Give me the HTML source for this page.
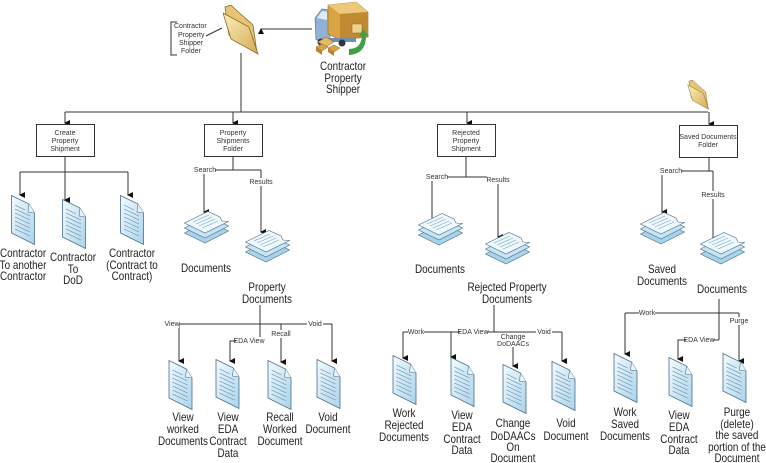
<!DOCTYPE html>
<html><head><meta charset="utf-8"><style>
html,body{margin:0;padding:0;background:#fff}
svg{display:block}
text{font-family:"Liberation Sans",Arial,sans-serif;fill:#222}
.t{font-size:11.5px;text-anchor:middle;transform-box:fill-box;transform-origin:center;transform:scaleX(.86)}
.s{font-size:7px;text-anchor:middle;fill:#333}
.lb{font-size:7px;fill:#333}
.ln{stroke:#333;stroke-width:1;fill:none}
</style></head><body>
<svg width="766" height="463" viewBox="0 0 766 463" xmlns="http://www.w3.org/2000/svg">
<defs>
<marker id="a" markerWidth="6" markerHeight="6" refX="3" refY="5" orient="auto-start-reverse" markerUnits="userSpaceOnUse"><path d="M0,0 L6,0 L3,6z" fill="#111"/></marker>
<linearGradient id="pg" x1="0" y1="0" x2="1" y2="1"><stop offset="0" stop-color="#f4fbff"/><stop offset="1" stop-color="#a9d3ea"/></linearGradient>
<linearGradient id="fg" x1="0" y1="0" x2="1" y2="1"><stop offset="0" stop-color="#fbf0b8"/><stop offset="1" stop-color="#d4aa55"/></linearGradient>
<symbol id="doc" viewBox="0 0 24 50">
<path d="M0.5,0.5 L18,9 L23.5,18 L23.5,49.5 L0.5,38z" fill="url(#pg)" stroke="#4a6f88" stroke-width="0.8"/>
<path d="M18,9 L17,17 L23.5,18" fill="#e7f4fb" stroke="#4a6f88" stroke-width="0.6"/>
<g stroke="#7aa1bb" stroke-width="0.7"><line x1="4" y1="10" x2="14" y2="15"/><line x1="4" y1="14" x2="19" y2="21"/><line x1="4" y1="18" x2="19" y2="25"/><line x1="4" y1="22" x2="19" y2="29"/><line x1="4" y1="26" x2="19" y2="33"/><line x1="4" y1="30" x2="19" y2="37"/><line x1="4" y1="34" x2="19" y2="41"/></g>
</symbol>
<symbol id="stk" viewBox="0 0 45 36">
<path d="M0.5,22 L24,10 L44.5,20 L21,32z" fill="#a9d3ea" stroke="#4a6f88" stroke-width="0.6"/>
<path d="M0.5,17 L24,5 L44.5,15 L21,27z" fill="#c6e4f3" stroke="#4a6f88" stroke-width="0.6"/>
<path d="M0.5,12 L24,0.5 L36,6 L38,10 L44.5,10.5 L21,22z" fill="#eef8fd" stroke="#4a6f88" stroke-width="0.6"/>
<g stroke="#7aa1bb" stroke-width="0.6"><line x1="9" y1="11" x2="25" y2="4"/><line x1="12" y1="13" x2="28" y2="6"/><line x1="15" y1="15" x2="31" y2="8"/><line x1="18" y1="17" x2="34" y2="10"/></g>
</symbol>
<symbol id="fold" viewBox="0 0 36 50">
<path d="M2,2 L8,0 L12,4 L30,20 L34,48 L6,30z" fill="#e6c574" stroke="#8a6a2a" stroke-width="0.8"/>
<path d="M0,8 L26,22 L35,49 L8,34z" fill="url(#fg)" stroke="#8a6a2a" stroke-width="0.8"/>
</symbol>
</defs>

<!-- top folder and truck -->
<use href="#fold" x="223" y="5" width="36" height="50"/>
<path d="M177,22 L171,22 L171,55 L177,55" class="ln" stroke-width="0.8"/>
<text class="lb" x="174" y="28">Contractor</text>
<text class="lb" x="178" y="37">Property</text>
<text class="lb" x="179" y="45">Shipper</text>
<text class="lb" x="181" y="53">Folder</text>
<line x1="206" y1="36" x2="222" y2="28" class="ln" stroke-width="0.6"/>
<line x1="312" y1="29" x2="261" y2="29" class="ln" marker-end="url(#a)"/>
<!-- truck -->
<g>
<path d="M315,18 L322,9 L330,10 L330,40 L316,40z" fill="#8fb2d6" stroke="#4a6a8a" stroke-width="0.6"/>
<path d="M317,18 L322,11 L327,12 L327,20z" fill="#dcecf8"/>
<path d="M328,5 L356,2 L368,12 L368,37 L340,40 L328,34z" fill="#d9a444" stroke="#8a6a2a" stroke-width="0.6"/>
<path d="M328,5 L356,2 L368,12 L340,14z" fill="#eec77a"/>
<path d="M340,14 L368,12 L368,37 L340,40z" fill="#c08a30"/>
<rect x="352" y="24" width="10" height="9" fill="#f1d08a" stroke="#8a6a2a" stroke-width="0.5"/>
<rect x="326" y="38" width="30" height="4" fill="#6f8fb4"/>
<circle cx="321" cy="42" r="3.5" fill="#334"/><circle cx="342" cy="43" r="3.5" fill="#334"/>
<path d="M318,42 L326,37 L334,42 L326,47z" fill="#e7b864" stroke="#8a6a2a" stroke-width="0.5"/>
<path d="M316,47 L322,44 L328,47 L322,51 z" fill="#d9a444" stroke="#8a6a2a" stroke-width="0.5"/>
<path d="M328,48 L334,45 L340,48 L334,52z" fill="#d9a444" stroke="#8a6a2a" stroke-width="0.5"/>
<path d="M316,47 L322,51 L322,55 L316,51z M328,48 L334,52 L334,56 L328,52z" fill="#b98535"/>
<path d="M349,55 Q366,54 366,36 L369,36 L363,29 L359,36 L362,36 Q361,49 349,49z" fill="#3fa046"/>
</g>
<text class="t" x="343" y="70">Contractor</text>
<text class="t" x="343" y="82">Property</text>
<text class="t" x="343" y="93">Shipper</text>

<!-- main tree -->
<line x1="241" y1="53" x2="241" y2="112" class="ln"/>
<line x1="65" y1="112" x2="708" y2="112" class="ln"/>
<line x1="65" y1="112" x2="65" y2="123" class="ln" marker-end="url(#a)"/>
<line x1="233" y1="112" x2="233" y2="123" class="ln" marker-end="url(#a)"/>
<line x1="467" y1="112" x2="467" y2="123" class="ln" marker-end="url(#a)"/>
<line x1="709" y1="112" x2="709" y2="124" class="ln" marker-end="url(#a)"/>
<use href="#fold" x="687" y="80" width="23" height="30"/>

<rect x="36.5" y="124.5" width="58" height="32" fill="#fff" stroke="#333"/>
<text class="s" x="65" y="135">Create</text><text class="s" x="65" y="143">Property</text><text class="s" x="65" y="151">Shipment</text>
<rect x="204.5" y="124.5" width="58" height="32" fill="#fff" stroke="#333"/>
<text class="s" x="233" y="135">Property</text><text class="s" x="233" y="143">Shipments</text><text class="s" x="233" y="151">Folder</text>
<rect x="437.5" y="124.5" width="58" height="32" fill="#fff" stroke="#333"/>
<text class="s" x="466" y="135">Rejected</text><text class="s" x="466" y="143">Property</text><text class="s" x="466" y="151">Shipment</text>
<rect x="679.5" y="125.5" width="58" height="32" fill="#fff" stroke="#333"/>
<text class="s" x="708" y="139">Saved Documents</text><text class="s" x="708" y="147">Folder</text>

<!-- box1 children -->
<line x1="65" y1="156" x2="65" y2="172" class="ln"/>
<line x1="20" y1="172" x2="128" y2="172" class="ln"/>
<line x1="20" y1="172" x2="20" y2="195" class="ln" marker-end="url(#a)"/>
<line x1="65" y1="172" x2="65" y2="200" class="ln" marker-end="url(#a)"/>
<line x1="128" y1="172" x2="128" y2="195" class="ln" marker-end="url(#a)"/>
<use href="#doc" x="11" y="195" width="24" height="50"/>
<use href="#doc" x="62" y="199" width="24" height="50"/>
<use href="#doc" x="120" y="195" width="24" height="50"/>
<text class="t" x="23" y="257">Contractor</text><text class="t" x="23" y="269">To another</text><text class="t" x="23" y="280">Contractor</text>
<text class="t" x="73" y="261">Contractor</text><text class="t" x="73" y="273">To</text><text class="t" x="73" y="284">DoD</text>
<text class="t" x="132" y="257">Contractor</text><text class="t" x="132" y="269">(Contract to</text><text class="t" x="132" y="280">Contract)</text>

<!-- box2 children -->
<line x1="233" y1="156" x2="233" y2="170" class="ln"/>
<line x1="204" y1="170" x2="261" y2="170" class="ln"/>
<line x1="204" y1="170" x2="204" y2="212" class="ln" marker-end="url(#a)"/>
<line x1="261" y1="170" x2="261" y2="232" class="ln" marker-end="url(#a)"/>
<rect x="195" y="166" width="20" height="8" fill="#fff"/><text class="s" x="205" y="172">Search</text>
<rect x="250" y="178" width="22" height="8" fill="#fff"/><text class="s" x="261" y="184">Results</text>
<use href="#stk" x="184" y="211" width="45" height="36"/>
<use href="#stk" x="245" y="230" width="45" height="36"/>
<text class="t" x="206" y="272">Documents</text>
<text class="t" x="267" y="291">Property</text><text class="t" x="267" y="303">Documents</text>

<!-- property docs children -->
<line x1="260" y1="305" x2="260" y2="341" class="ln"/>
<line x1="179" y1="324" x2="332" y2="324" class="ln"/>
<line x1="179" y1="324" x2="179" y2="361" class="ln" marker-end="url(#a)"/>
<line x1="332" y1="324" x2="332" y2="361" class="ln" marker-end="url(#a)"/>
<path d="M260,341 L230,341 L230,361" class="ln" marker-end="url(#a)"/>
<line x1="281" y1="324" x2="281" y2="362" class="ln" marker-end="url(#a)"/>
<rect x="165" y="320" width="14" height="8" fill="#fff"/><text class="s" x="172" y="326">View</text>
<rect x="236" y="337" width="27" height="8" fill="#fff"/><text class="s" x="249" y="343">EDA View</text>
<rect x="272" y="330" width="18" height="8" fill="#fff"/><text class="s" x="281" y="336">Recall</text>
<rect x="307" y="320" width="16" height="8" fill="#fff"/><text class="s" x="315" y="326">Void</text>
<use href="#doc" x="168" y="360" width="25" height="50"/>
<use href="#doc" x="215" y="359" width="25" height="50"/>
<use href="#doc" x="267" y="360" width="25" height="50"/>
<use href="#doc" x="316" y="359" width="25" height="50"/>
<text class="t" x="183" y="421">View</text><text class="t" x="183" y="433">worked</text><text class="t" x="183" y="445">Documents</text>
<text class="t" x="228" y="421">View</text><text class="t" x="228" y="433">EDA</text><text class="t" x="228" y="445">Contract</text><text class="t" x="228" y="457">Data</text>
<text class="t" x="280" y="421">Recall</text><text class="t" x="280" y="433">Worked</text><text class="t" x="280" y="445">Document</text>
<text class="t" x="328" y="421">Void</text><text class="t" x="328" y="433">Document</text>

<!-- box3 children -->
<line x1="466" y1="156" x2="466" y2="177" class="ln"/>
<line x1="432" y1="177" x2="498" y2="177" class="ln"/>
<line x1="432" y1="177" x2="432" y2="219" class="ln" marker-end="url(#a)"/>
<line x1="498" y1="177" x2="498" y2="237" class="ln" marker-end="url(#a)"/>
<rect x="427" y="173" width="20" height="8" fill="#fff"/><text class="s" x="437" y="179">Search</text>
<rect x="487" y="176" width="22" height="8" fill="#fff"/><text class="s" x="498" y="182">Results</text>
<use href="#stk" x="418" y="213" width="45" height="36"/>
<use href="#stk" x="485" y="232" width="45" height="36"/>
<text class="t" x="440" y="273">Documents</text>
<text class="t" x="507" y="291">Rejected Property</text><text class="t" x="507" y="303">Documents</text>

<!-- rejected docs children -->
<line x1="494" y1="305" x2="494" y2="332" class="ln"/>
<line x1="403" y1="332" x2="562" y2="332" class="ln"/>
<line x1="403" y1="332" x2="403" y2="358" class="ln" marker-end="url(#a)"/>
<line x1="451" y1="332" x2="451" y2="357" class="ln" marker-end="url(#a)"/>
<line x1="513" y1="347" x2="513" y2="366" class="ln" marker-end="url(#a)"/>
<line x1="562" y1="332" x2="562" y2="361" class="ln" marker-end="url(#a)"/>
<rect x="408" y="328" width="16" height="8" fill="#fff"/><text class="s" x="416" y="334">Work</text>
<rect x="460" y="328" width="27" height="8" fill="#fff"/><text class="s" x="473" y="334">EDA View</text>
<text class="s" x="513" y="339">Change</text><text class="s" x="513" y="346">DoDAACs</text>
<rect x="536" y="328" width="16" height="8" fill="#fff"/><text class="s" x="544" y="334">Void</text>
<use href="#doc" x="392" y="355" width="25" height="50"/>
<use href="#doc" x="450" y="357" width="25" height="50"/>
<use href="#doc" x="502" y="364" width="25" height="50"/>
<use href="#doc" x="551" y="361" width="25" height="50"/>
<text class="t" x="404" y="417">Work</text><text class="t" x="404" y="429">Rejected</text><text class="t" x="404" y="441">Documents</text>
<text class="t" x="462" y="419">View</text><text class="t" x="462" y="431">EDA</text><text class="t" x="462" y="443">Contract</text><text class="t" x="462" y="454">Data</text>
<text class="t" x="513" y="427">Change</text><text class="t" x="513" y="440">DoDAACs</text><text class="t" x="513" y="451">On</text><text class="t" x="513" y="462">Document</text>
<text class="t" x="566" y="427">Void</text><text class="t" x="566" y="440">Document</text>

<!-- box4 children -->
<line x1="709" y1="157" x2="709" y2="171" class="ln"/>
<line x1="662" y1="171" x2="713" y2="171" class="ln"/>
<line x1="662" y1="171" x2="662" y2="212" class="ln" marker-end="url(#a)"/>
<line x1="713" y1="171" x2="713" y2="238" class="ln" marker-end="url(#a)"/>
<rect x="661" y="167" width="20" height="8" fill="#fff"/><text class="s" x="671" y="173">Search</text>
<rect x="702" y="191" width="22" height="8" fill="#fff"/><text class="s" x="713" y="197">Results</text>
<use href="#stk" x="640" y="212" width="45" height="36"/>
<use href="#stk" x="700" y="232" width="45" height="36"/>
<text class="t" x="662" y="273">Saved</text><text class="t" x="662" y="285">Documents</text>
<text class="t" x="722" y="293">Documents</text>

<!-- saved docs children -->
<line x1="719" y1="299" x2="719" y2="340" class="ln"/>
<line x1="625" y1="313" x2="739" y2="313" class="ln"/>
<line x1="625" y1="313" x2="625" y2="354" class="ln" marker-end="url(#a)"/>
<line x1="739" y1="313" x2="739" y2="361" class="ln" marker-end="url(#a)"/>
<path d="M719,340 L678,340 L678,359" class="ln" marker-end="url(#a)"/>
<rect x="639" y="309" width="16" height="8" fill="#fff"/><text class="s" x="647" y="315">Work</text>
<rect x="730" y="317" width="18" height="8" fill="#fff"/><text class="s" x="739" y="323">Purge</text>
<rect x="686" y="336" width="27" height="8" fill="#fff"/><text class="s" x="699" y="342">EDA View</text>
<use href="#doc" x="613" y="353" width="25" height="50"/>
<use href="#doc" x="668" y="357" width="25" height="50"/>
<use href="#doc" x="722" y="353" width="25" height="50"/>
<text class="t" x="625" y="416">Work</text><text class="t" x="625" y="428">Saved</text><text class="t" x="625" y="440">Documents</text>
<text class="t" x="679" y="419">View</text><text class="t" x="679" y="431">EDA</text><text class="t" x="679" y="443">Contract</text><text class="t" x="679" y="454">Data</text>
<text class="t" x="737" y="416">Purge</text><text class="t" x="737" y="428">(delete)</text><text class="t" x="737" y="439">the saved</text><text class="t" x="737" y="451">portion of the</text><text class="t" x="737" y="462">Document</text>
</svg>
</body></html>
